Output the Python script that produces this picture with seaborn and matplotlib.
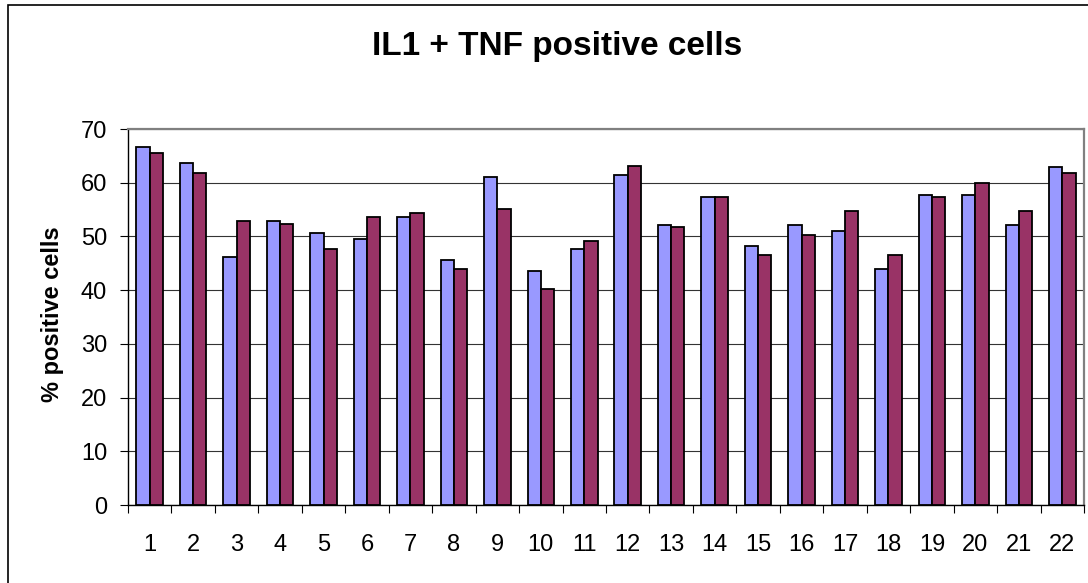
import pandas as pd
import seaborn as sns
import matplotlib.pyplot as plt
from matplotlib.patches import Rectangle

# data
samples = [str(i) for i in range(1, 23)]
series_a = [66.6, 63.7, 46.2, 52.8, 50.6, 49.5, 53.6, 45.7, 61.0, 43.6, 47.6,
            61.4, 52.1, 57.3, 48.3, 52.1, 51.0, 43.9, 57.7, 57.7, 52.1, 62.9]
series_b = [65.6, 61.8, 52.8, 52.4, 47.7, 53.6, 54.3, 43.9, 55.1, 40.2, 49.1,
            63.2, 51.7, 57.3, 46.5, 50.2, 54.7, 46.5, 57.3, 59.9, 54.7, 61.8]
yticks = [0, 10, 20, 30, 40, 50, 60, 70]

df = pd.DataFrame({
    'sample': samples * 2,
    'value': series_a + series_b,
    'series': ['A'] * len(samples) + ['B'] * len(samples),
})

sns.set_style('white')
plt.rcParams['font.family'] = ['Liberation Sans', 'DejaVu Sans']
plt.rcParams['text.color'] = 'black'
plt.rcParams['xtick.color'] = 'black'
plt.rcParams['ytick.color'] = 'black'

fig = plt.figure(figsize=(10.88, 5.83), dpi=100)
ax = fig.add_axes([128 / 1088, 1 - 505 / 583, (1084 - 128) / 1088, (505 - 129) / 583])

sns.barplot(data=df, x='sample', y='value', hue='series', order=samples,
            palette=['#9999FF', '#993366'], saturation=1, width=0.61, gap=0,
            edgecolor='black', linewidth=1.3, legend=False, ax=ax, zorder=3)

ax.set_xlim(-0.5, len(samples) - 0.5)
ax.set_ylim(0, 70)
ax.set_yticks(yticks)
ax.yaxis.grid(True, color='#333333', linewidth=0.8, zorder=0)
ax.set_axisbelow(True)

# ticks between categories
ax.set_xticks([i + 0.5 for i in range(-1, len(samples))], minor=True)
ax.tick_params(axis='x', which='minor', direction='out', length=6, width=0.8, color='black', bottom=True)
ax.tick_params(axis='x', which='major', length=0, pad=21, labelsize=17, labelcolor='black')
ax.tick_params(axis='y', direction='out', length=6, width=0.8, color='black', left=True, pad=9,
               labelsize=17, labelcolor='black')

for s in ['left', 'bottom']:
    ax.spines[s].set_color('black')
    ax.spines[s].set_linewidth(1.0)
for s in ['top', 'right']:
    ax.spines[s].set_color('#808080')
    ax.spines[s].set_linewidth(1.6)

ax.set_xlabel('')
ax.set_ylabel('')

fig.text(557 / 1088, 1 - 47 / 583, 'IL1 + TNF positive cells', ha='center', va='center',
         fontsize=24, fontweight='bold', color='black')
fig.text(53 / 1088, 1 - 314 / 583, '% positive cells', ha='center', va='center',
         rotation=90, fontsize=17, fontweight='bold', color='black')

# outer chart frame
fig.patches.append(Rectangle((8 / 1088, -0.1), 1.2, 1.1 - 5 / 583, transform=fig.transFigure,
                             fill=False, edgecolor='black', linewidth=1.2))

fig.savefig('out.png', dpi=100, facecolor='white')
